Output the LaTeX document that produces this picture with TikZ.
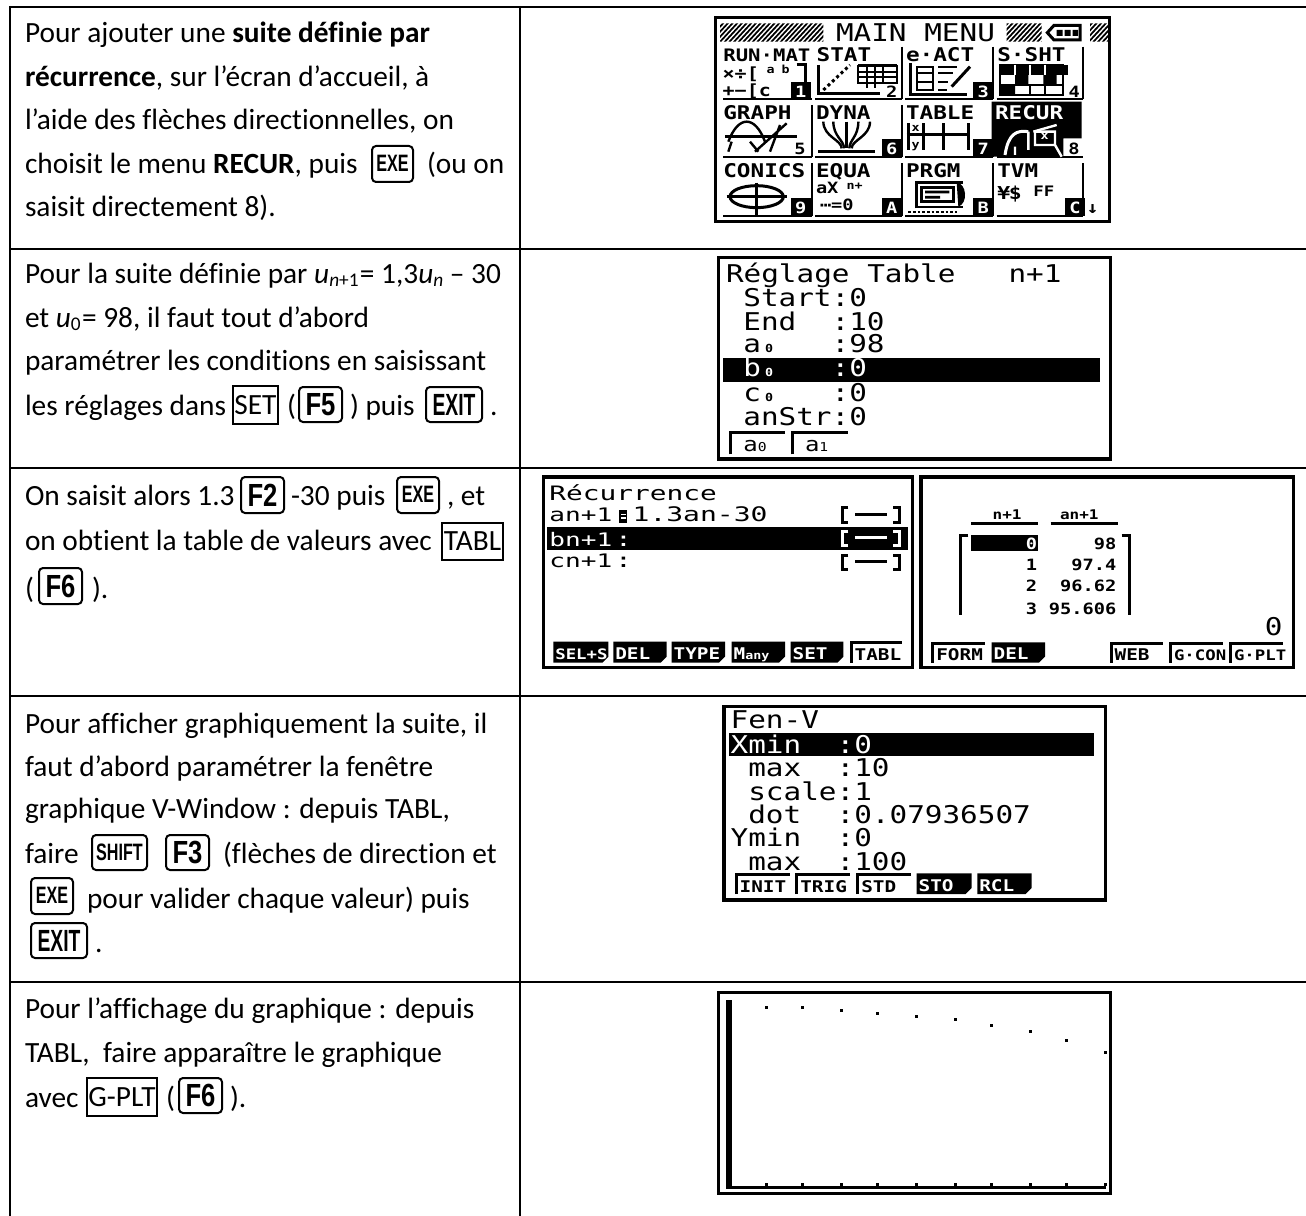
\documentclass[tikz,border=0pt]{standalone}
\usepackage{fontspec}
\usepackage{graphicx}
\setmainfont[Ligatures=NoCommon]{Carlito}
\newfontfamily\lcdf[FakeStretch=1.2]{DejaVu Sans Mono}
\newfontfamily\lcdw[FakeStretch=1.4]{DejaVu Sans Mono}
\newfontfamily\keyf{Liberation Sans}
\newcommand\lfs[1]{\fontsize{\fpeval{#1*0.8333}}{\fpeval{#1*0.8333}}\selectfont}
\newcommand\bgf{\lcdf\lfs{22}}
\newcommand\lbl{\lcdf\bfseries\lfs{17}}
\newcommand\skf{\lcdf\bfseries\lfs{14.5}}
\newcommand\tabf{\lcdf\bfseries\lfs{14}}
\newcommand\tnyf{\lcdf\bfseries\lfs{10}}
\newcounter{nn}
\tikzset{
  lcdt/.style={anchor=base west,inner sep=0pt,outer sep=0pt},
  rgrid/.style={line width=1.6pt,black},
  lp/.style={line width=2.25pt,black,line cap=butt,line join=miter},
  lw/.style={line width=2.25pt,white,line cap=butt},
  frm/.style={line width=2.4pt,black,fill=white},
  txt/.style={anchor=base west,inner sep=0pt,outer sep=0pt,font=\fontsize{22}{22}\selectfont,text=black},
  keyb/.style={draw=black,line width=1.5pt,rounded corners=3pt,inner sep=0pt,outer sep=0pt,font=\keyf\bfseries},
  boxb/.style={draw=black,line width=1.1pt,inner sep=0pt,outer sep=0pt,font=\fontsize{22}{22}\selectfont}
}
% LCD text: colour, position, text
\newcommand\LL[4][black]{\stepcounter{nn}\node[lcdt,text=#1] (n\thenn) at (#2,#3) {#4};}
% key: x1 y1 x2 y2 size hscale text
\newcommand\KEY[7]{\stepcounter{nn}\node[keyb,minimum width={(#3-#1)*0.75pt},minimum height={(#4-#2)*0.75pt}] (k\thenn) at ({(#1+#3)/2},{(#2+#4)/2}) {\fontsize{#5}{#5}\selectfont\scalebox{#6}[1]{#7}};}
% framed word
\newcommand\BOX[5]{\stepcounter{nn}\node[boxb,minimum width={(#3-#1)*0.75pt},minimum height={(#4-#2)*0.75pt}] (b\thenn) at ({(#1+#3)/2},{(#2+#4)/2}) {#5};}
\newcommand\TX[3]{\stepcounter{nn}\node[txt] (t\thenn) at (#1,#2) {#3};}
\newcommand\sbs[1]{\raisebox{-0.12em}{\fontsize{14.5}{14.5}\selectfont #1}}
% soft keys, in zoom units
\newcommand\SKD[5]{\fill[black] (#1,#3) -- (#2,#3) -- (#2,#4-18) -- (#2-18,#4) -- (#1,#4) -- cycle;
 \LL[white]{#1+6}{#4-9}{\skf #5}}
\newcommand\SKO[5]{\draw[lp] (#1+3,#4) -- (#1+3,#3+3) -- (#2,#3+3);
 \LL{#1+14}{#4-6}{\skf #5}}
% number tab of the main menu
\newcommand\MND[3]{\fill[black] (#1,#2) rectangle (#1+60,#2+53); \LL[white]{#1+13}{#2+47}{\lcdf\bfseries\lfs{14}#3}}
\newcommand\MNW[3]{\LL{#1+13}{#2+47}{\lcdf\bfseries\lfs{14}#3}}
\begin{document}
\begin{tikzpicture}[x=0.75pt,y=-0.75pt]
\useasboundingbox[fill=white] (0,0) rectangle (1306,1216);
% ---- table rules
\draw[rgrid] (10,7) -- (1306,7);
\draw[rgrid] (10,249) -- (1306,249);
\draw[rgrid] (10,468) -- (1306,468);
\draw[rgrid] (10,696) -- (1306,696);
\draw[rgrid] (10,982) -- (1306,982);
\draw[rgrid] (10,6) -- (10,1216);
\draw[rgrid] (520,6) -- (520,1216);
% ---- row 1 text
\TX{25}{43}{Pour ajouter une \textbf{suite définie par}}
\TX{25}{87}{\textbf{récurrence}, sur l’écran d’accueil, à}
\TX{25}{130}{l’aide des flèches directionnelles, on}
\TX{25}{174}{choisit le menu \textbf{RECUR}, puis}
\KEY{372}{146}{413}{182}{17.8}{0.68}{\raisebox{1pt}{EXE}}
\TX{427}{174}{(ou on}
\TX{25}{217}{saisit directement 8).}
% ---- row 2 text
\TX{25}{283}{Pour la suite définie par \textit{u}\sbs{\textit{n}+1}\kern1pt= 1,3\textit{u}\sbs{\textit{n}} – 30}
\TX{25}{327}{et \textit{u}\sbs{0}\kern1pt= 98, il faut tout d’abord}
\TX{25}{370}{paramétrer les conditions en saisissant}
\TX{25}{415}{les réglages dans}
\BOX{233}{386}{278}{424}{SET}
\TX{287}{415}{(}
\KEY{299}{387}{342}{422}{24}{0.8}{F5}
\TX{350}{415}{) puis}
\KEY{426}{387}{482}{422}{23}{0.63}{EXIT}
\TX{490}{415}{.}
% ---- row 3 text
\TX{25}{505}{On saisit alors 1.3}
\KEY{241}{477}{284}{513}{24}{0.8}{F2}
\TX{291}{505}{-30 puis}
\KEY{397}{477}{439}{513}{17.8}{0.68}{\raisebox{1pt}{EXE}}
\TX{447}{505}{, et}
\TX{25}{550}{on obtient la table de valeurs avec}
\BOX{442}{523}{503}{560}{TABL}
\TX{25}{598}{(}
\KEY{39}{568}{82}{604}{24}{0.8}{F6}
\TX{92}{598}{).}
% ---- row 4 text
\TX{25}{733}{Pour afficher graphiquement la suite, il}
\TX{25}{776}{faut d’abord paramétrer la fenêtre}
\TX{25}{818}{graphique V-Window : depuis TABL,}
\TX{25}{863}{faire}
\KEY{92}{835}{147}{870}{17.8}{0.68}{SHIFT}
\KEY{166}{835}{209}{870}{24}{0.8}{F3}
\TX{223}{863}{(flèches de direction et}
\KEY{31}{878}{73}{914}{17.8}{0.68}{\raisebox{1pt}{EXE}}
\TX{87}{908}{pour valider chaque valeur) puis}
\KEY{31}{923}{87}{958}{23}{0.63}{EXIT}
\TX{95}{952}{.}
% ---- row 5 text
\TX{25}{1018}{Pour l’affichage du graphique : depuis}
\TX{25}{1062}{TABL,\ \ faire apparaître le graphique}
\TX{25}{1107}{avec}
\BOX{87}{1078}{157}{1116}{G-PLT}
\TX{166}{1107}{(}
\KEY{179}{1078}{222}{1113}{24}{0.8}{F6}
\TX{230}{1107}{).}
% ---- main menu screen (units: 1/3 px)
\begin{scope}[shift={(700,0)},x=0.25pt,y=-0.25pt]
\draw[frm,line width=2.4pt] (46,52) rectangle (1228,664);
\begin{scope}
 \clip (60,70) rectangle (370,125) (920,70) rectangle (1025,125) (1170,70) rectangle (1225,125);
 \foreach \i in {0,14,...,1240} \draw[line width=1.3pt] (\i,130) -- (\i+60,65);
\end{scope}
\LL{408}{125}{\lcdf\lfs{22}MAIN MENU}
\draw[lp] (1062,76) -- (1140,76) -- (1140,120) -- (1062,120) -- (1042,98) -- cycle;
\fill (1070,90) rectangle (1088,108) (1094,90) rectangle (1112,108) (1118,90) rectangle (1134,108);
% row lines
\foreach \a/\b in {70/335,345/605,615/880,890/1150} {
 \draw[lp,line width=1.6pt] (\a,298) -- (\b,298);
 \draw[lp,line width=1.6pt] (\a,470) -- (\b,470);
 \draw[lp,line width=1.6pt] (\a,648) -- (\b,648);
}
\foreach \xx in {605,880,1150} \draw[lp,line width=1.6pt] (\xx,140) -- (\xx,298);
\foreach \xx in {335,605} \draw[lp,line width=1.6pt] (\xx,315) -- (\xx,470);
\draw[lp,line width=1.6pt] (880,315) -- (880,470);
\foreach \xx in {335,605,880} \draw[lp,line width=1.6pt] (\xx,490) -- (\xx,648);
\draw[lp,line width=1.6pt] (1150,490) -- (1150,648);
% labels
\LL{70}{185}{\lcdf\bfseries\lfs{15.5}RUN·MAT}
\LL{350}{185}{\lbl STAT}
\LL{618}{185}{\lbl e·ACT}
\LL{892}{185}{\lbl S·SHT}
\LL{70}{360}{\lbl GRAPH}
\LL{348}{360}{\lbl DYNA}
\LL{618}{360}{\lbl TABLE}
\LL{70}{533}{\lbl CONICS}
\LL{348}{533}{\lbl EQUA}
\LL{618}{533}{\lbl PRGM}
\LL{892}{533}{\lbl TVM}
% number tabs
\MND{272}{245}{1}\MNW{545}{245}{2}\MND{820}{245}{3}\MNW{1093}{245}{4}
\MNW{270}{418}{5}\MND{545}{418}{6}\MND{820}{418}{7}
\MND{272}{595}{9}\MND{545}{595}{A}\MND{820}{595}{B}\MND{1095}{595}{C}
% RUN-MAT icon
\LL{68}{240}{\lcdf\bfseries\lfs{15}×÷[}
\LL{68}{290}{\lcdf\bfseries\lfs{15}+−[c}
\LL{200}{222}{\tnyf a}
\LL{245}{222}{\tnyf b}
\draw[lp] (290,195) -- (315,195) -- (315,245);
% STAT icon
\draw[lp] (355,195) -- (355,282) -- (540,282);
\draw[lp,dash pattern=on 2.25pt off 2.25pt] (370,270) -- (450,195);
\draw[lp] (475,197) -- (590,197);
\draw[lp,line width=1.6pt] (475,197) rectangle (590,250) (475,215) -- (590,215) (475,232) -- (590,232) (500,197) -- (500,265) (525,197) -- (525,265) (550,197) -- (550,250);
% e-ACT icon
\draw[lp] (630,190) -- (630,285) -- (800,285);
\draw[lp,line width=1.6pt] (650,200) rectangle (700,270) (655,220) -- (695,220) (655,245) -- (695,245);
\draw[lp,line width=1.6pt] (715,200) -- (770,200) (715,220) -- (760,220) (715,245) -- (745,245) (715,270) -- (740,270);
\draw[lp] (755,260) -- (810,200);
% S-SHT icon
\fill (900,195) rectangle (1105,225);
\draw[lp,line width=1.6pt] (900,195) rectangle (1090,285) (900,255) -- (1090,255);
\fill (945,225) rectangle (985,255) (1030,225) rectangle (1070,255) (900,255) rectangle (945,285);
\foreach \xx in {945,990,1035} \draw[lw,line width=1.2pt] (\xx,195) -- (\xx,225);
\draw[lp,line width=1.6pt] (990,255) -- (990,285) (1035,255) -- (1035,285);
% GRAPH icon
\draw[lp,line width=1.8pt] (85,425) .. controls (115,345) and (165,345) .. (195,425);
\draw[lp,line width=1.8pt] (75,410) -- (290,410);
\draw[lp,line width=1.8pt] (165,455) -- (260,370) (210,455) -- (240,375);
\draw[lp,line width=1.8pt] (95,425) -- (85,455) (150,425) -- (175,455);
% DYNA icon
\draw[lp,line width=1.8pt] (355,455) -- (525,455);
\foreach \xa/\xb in {370/425,400/432,440/440,475/448,510/455} \draw[lp,line width=1.8pt] (\xa,365) .. controls (\xa,410) and (\xb,420) .. (\xb,445);
% TABLE icon
\draw[lp] (620,405) -- (810,405);
\foreach \xx in {625,670,730,805} \draw[lp,line width=1.8pt] (\xx,370) -- (\xx,450);
\LL{635}{395}{\tnyf x}
\LL{635}{445}{\tnyf y}
% RECUR cell
\fill[black] (875,305) -- (1145,305) -- (1145,415) -- (1090,415) -- (1090,470) -- (875,470) -- cycle;
\LL[white]{885}{358}{\lbl RECUR}
\draw[lw] (915,465) .. controls (925,400) and (950,390) .. (985,395);
\draw[lw,line width=1.8pt] (985,395) -- (985,450) (1000,395) -- (1070,375);
\draw[lw,line width=1.8pt] (1005,395) rectangle (1065,435) (1065,435) -- (1085,470) (945,440) -- (945,465);
\LL[white]{1022}{420}{\tnyf x}
\MNW{1092}{418}{8}
% CONICS icon
\draw[lp] (170,590) ellipse [x radius=80,y radius=33];
\draw[lp] (80,590) -- (262,590) (170,548) -- (170,645);
% EQUA icon
\LL{348}{582}{\lcdf\bfseries\lfs{14}aX}
\LL{440}{568}{\tnyf n+}
\LL{360}{632}{\lcdf\bfseries\lfs{14}⋯=0}
% PRGM icon
\draw[lp] (650,625) -- (650,548) -- (790,548);
\fill (770,548) .. controls (800,550) and (805,610) .. (775,620) -- cycle;
\draw[lp,line width=1.8pt] (665,562) rectangle (760,605);
\fill (675,572) rectangle (748,580) (675,588) rectangle (720,596);
\draw[lp,line width=1.6pt,dash pattern=on 2pt off 1.5pt] (625,635) -- (770,635);
\draw[lp,line width=1.6pt] (650,622) -- (790,622);
% TVM icon
\LL{892}{600}{\lcdf\bfseries\lfs{16}¥\kern-1pt\$}
\LL{1000}{590}{\lcdf\bfseries\lfs{13}FF}
\LL{1160}{640}{\lcdf\bfseries\lfs{15}↓}
\end{scope}
% ---- screen 2
\begin{scope}[shift={(700,245)},x=0.25pt,y=-0.25pt]
\draw[frm] (55,38) rectangle (1232,642);
\LL{78}{112}{\bgf Réglage Table~~~n+1}
\LL{130}{185}{\bgf Start:0}
\LL{130}{255}{\bgf End~~:10}
\LL{130}{322}{\bgf a}
\LL{195}{322}{\tnyf 0}
\LL{130}{322}{\bgf\phantom{End~~}:98}
\fill (70,340) rectangle (1200,412);
\LL[white]{130}{395}{\bgf b}
\LL[white]{195}{395}{\tnyf 0}
\LL[white]{130}{395}{\bgf\phantom{End~~}:0}
\LL{130}{468}{\bgf c}
\LL{195}{468}{\tnyf 0}
\LL{130}{468}{\bgf\phantom{End~~}:0}
\LL{130}{540}{\bgf anStr:0}
\draw[lp] (92,628) -- (92,563) -- (255,563);
\draw[lp] (278,628) -- (278,563) -- (445,563);
\LL{130}{618}{\lcdf\lfs{18}a\lfs{11}0}
\LL{315}{618}{\lcdf\lfs{18}a\lfs{11}1}
\end{scope}
% ---- screen 3a
\begin{scope}[shift={(520,480)},x=0.25pt,y=-0.25pt]
\draw[frm] (70,-9) rectangle (1178,562);
\LL{88}{60}{\lcdw\fontsize{14.9}{14.9}\selectfont Récurrence}
\LL{88}{125}{\lcdw\fontsize{14}{14}\selectfont an+1}
\fill (298,90) rectangle (322,128);
\draw[lw,line width=1.2pt] (303,104) -- (317,104) (303,114) -- (317,114);
\LL{338}{125}{\lcdw\fontsize{15}{15}\selectfont 1.3an-30}
\fill (80,142) rectangle (1165,210);
\LL[white]{88}{198}{\lcdw\fontsize{14}{14}\selectfont bn+1}
\LL[white]{285}{198}{\lcdw\fontsize{15}{15}\selectfont :}
\LL{88}{262}{\lcdw\fontsize{14}{14}\selectfont cn+1}
\LL{285}{262}{\lcdw\fontsize{15}{15}\selectfont :}
\foreach \yy/\cc in {105/black,175/white,247/black} {
 \draw[lp,color=\cc] (985,\yy-22) -- (967,\yy-22) -- (967,\yy+22) -- (985,\yy+22);
 \draw[lp,color=\cc] (1120,\yy-22) -- (1138,\yy-22) -- (1138,\yy+22) -- (1120,\yy+22);
 \draw[lp,color=\cc] (1005,\yy-2) -- (1100,\yy-2);
}
\SKD{100}{265}{485}{548}{\lfs{13}SEL+S}
\SKD{280}{440}{485}{548}{DEL}
\SKD{455}{615}{485}{548}{TYPE}
\SKD{635}{795}{485}{548}{M{\lfs{10}any}}
\SKD{812}{970}{485}{548}{SET}
\SKO{990}{1145}{485}{548}{TABL}
\end{scope}
% ---- screen 3b
\begin{scope}[shift={(910,480)},x=0.25pt,y=-0.25pt]
\draw[frm] (33,-9) rectangle (1150,562);
\LL{248}{118}{\lcdf\bfseries\lfs{12}n+1}
\LL{450}{118}{\lcdf\bfseries\lfs{12}an+1}
\draw[lp] (183,130) -- (385,130) (422,130) -- (625,130);
\draw[lp] (175,167) -- (152,167) -- (152,405);
\draw[lp] (635,167) -- (657,167) -- (657,405);
\fill (183,165) rectangle (385,212);
\foreach \yy/\nn/\vv in {208/0/98,272/1/97.4,335/2/96.62,403/3/95.606} {
 \stepcounter{nn}\node[anchor=base east,inner sep=0,text=black,font=\tabf] (r\thenn) at (620,\yy) {\vv};
}
\stepcounter{nn}\node[anchor=base east,inner sep=0,text=white,font=\tabf] (r\thenn) at (382,208) {0};
\stepcounter{nn}\node[anchor=base east,inner sep=0,text=black,font=\tabf] (r\thenn) at (382,272) {1};
\stepcounter{nn}\node[anchor=base east,inner sep=0,text=black,font=\tabf] (r\thenn) at (382,335) {2};
\stepcounter{nn}\node[anchor=base east,inner sep=0,text=black,font=\tabf] (r\thenn) at (382,403) {3};
\stepcounter{nn}\node[anchor=base east,inner sep=0,text=black,font=\bgf] (r\thenn) at (1118,465) {0};
\SKO{65}{225}{487}{548}{FORM}
\SKD{245}{405}{487}{548}{DEL}
\SKO{600}{760}{487}{548}{WEB}
\SKO{778}{940}{487}{548}{\lfs{13}G·CON}
\SKO{958}{1118}{487}{548}{\lfs{13}G·PLT}
\end{scope}
% ---- screen 4
\begin{scope}[shift={(700,690)},x=0.25pt,y=-0.25pt]
\draw[frm] (72,50) rectangle (1216,630);
\LL{92}{115}{\bgf Fen-V}
\fill (88,130) rectangle (1182,198);
\LL[white]{92}{190}{\bgf Xmin~~:0}
\LL{92}{260}{\bgf ~max~~:10}
\LL{92}{330}{\bgf ~scale:1}
\LL{92}{400}{\bgf ~dot~~:0.07936507}
\LL{92}{470}{\bgf Ymin~~:0}
\LL{92}{540}{\bgf ~max~~:100}
\SKO{105}{270}{550}{612}{INIT}
\SKO{287}{450}{550}{612}{TRIG}
\SKO{470}{632}{550}{612}{STD}
\SKD{650}{815}{550}{612}{STO}
\SKD{832}{995}{550}{612}{RCL}
\end{scope}
% ---- screen 5
\begin{scope}[shift={(700,970)},x=0.25pt,y=-0.25pt]
\draw[frm] (56,67) rectangle (1231,671);
\fill (78,90) rectangle (96,657);
\fill (96,648) rectangle (1218,657);
\foreach \xx/\yy in {199/112,307/112,424/121,532/130,649/139,766/148,874/166,991/184,1099/211,1216/247} {
 \fill (\xx-4.5,\yy-4.5) rectangle (\xx+4.5,\yy+4.5);
 \fill (\xx-4.5,639) rectangle (\xx+4.5,648);
}
\end{scope}
\end{tikzpicture}
\end{document}
